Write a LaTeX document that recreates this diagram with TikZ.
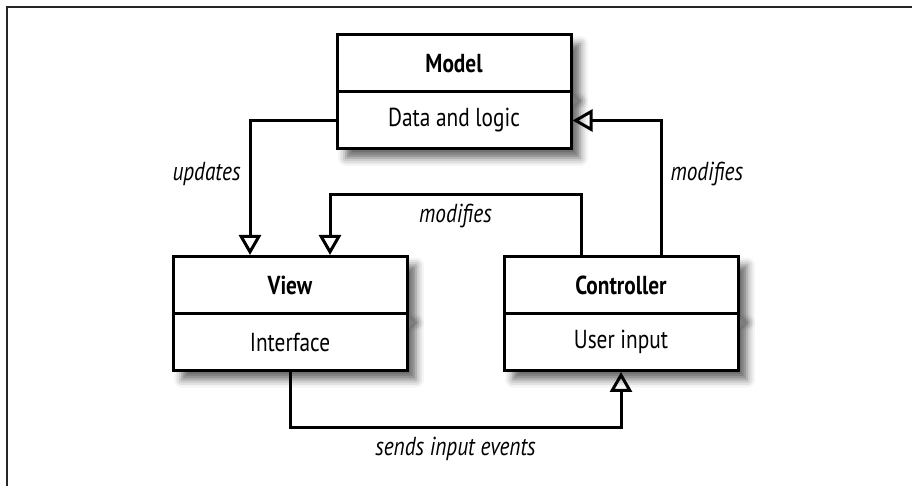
\documentclass[tikz,border=0pt]{standalone}
\usepackage{fontspec}
\setmainfont{PT Sans}[FakeStretch=0.82]
\usetikzlibrary{positioning,arrows.meta,shadows.blur}

\tikzset{
  part/.style={draw, fill=white, line width=1.5pt, minimum width=117pt,
    minimum height=28.5pt, inner sep=0pt, font=\fontsize{13}{15}\selectfont,
    blur shadow={shadow xshift=4.5pt, shadow yshift=-4.5pt,
      shadow blur radius=4pt, shadow opacity=60}},
  head/.style={part, font=\fontsize{13}{15}\selectfont\bfseries},
  link/.style={line width=1.5pt, -{Triangle[open, width=11pt, length=10pt]}},
  lbl/.style={font=\fontsize{13}{15}\selectfont\itshape, inner sep=4pt}
}

\begin{document}
\begin{tikzpicture}[x=0.5pt, y=0.5pt, node distance=28.5pt, on grid]
    \useasboundingbox (0,0) rectangle (912,-486);
    \draw[line width=1.3pt, black!85] (7,-486) |- (912,-7);
    \node[head]  (model) at (454,-63.5)                              {Model};
    \node[part]  (model_b) [below=of model]                          {Data and logic};
    \node[head]  (view)    [below left=82.25pt and 82pt of model_b]  {View};
    \node[part]  (view_b)  [below=of view]                           {Interface};
    \node[head]  (ctrl)    [below right=82.25pt and 83.5pt of model_b] {Controller};
    \node[part]  (ctrl_b)  [below=of ctrl]                           {User input};
    \draw[link] (model_b.west) -| node [lbl, left, pos=0.7] {updates} ([xshift=-20pt]view.north);
    \draw[link] ([xshift=-20pt]ctrl.north) -- ++(0,30pt)
                -| node [lbl, below, pos=0.25] {modifies} ([xshift=20pt]view.north);
    \draw[link] ([xshift=20pt]ctrl.north) |- node [lbl, right, pos=0.3] {modifies} (model_b.east);
    \draw[link] (view_b.south) -- ++(0,-28pt)
                -| node [lbl, below, pos=0.25] {sends input events} (ctrl_b.south);
\end{tikzpicture}
\end{document}
